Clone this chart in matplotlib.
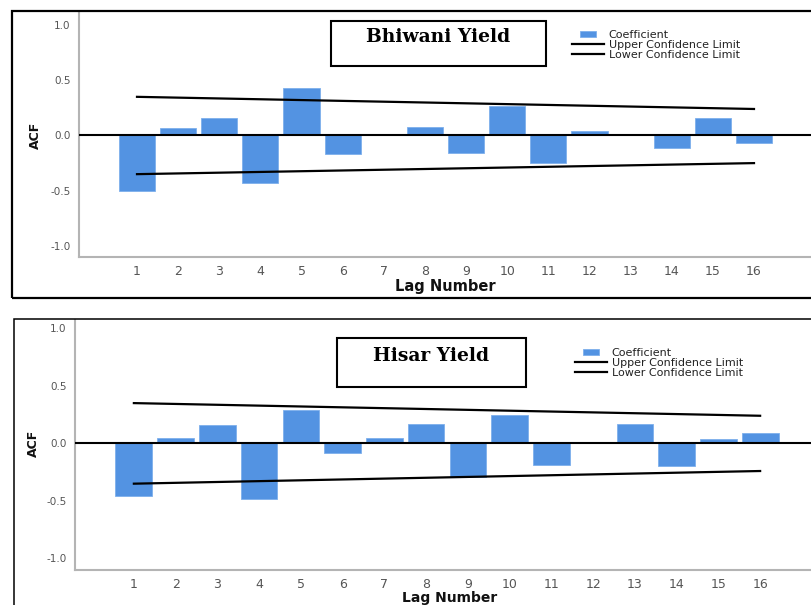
import matplotlib

matplotlib.use("Agg")
import matplotlib.pyplot as plt
import matplotlib.patches as mpatches
from matplotlib.legend_handler import HandlerPatch

W, H = 812, 605

lags = list(range(1, 17))
bhiwani_acf = [-0.50, 0.07, 0.16, -0.43, 0.43, -0.17, 0.00, 0.08,
               -0.16, 0.27, -0.25, 0.04, 0.01, -0.11, 0.16, -0.07]
hisar_acf = [-0.46, 0.05, 0.16, -0.48, 0.29, -0.08, 0.05, 0.17,
             -0.29, 0.25, -0.19, 0.00, 0.17, -0.20, 0.04, 0.09]
# confidence limits read at lag 1 and lag 16
bhiwani_ucl = [0.35, 0.24]
bhiwani_lcl = [-0.35, -0.25]
hisar_ucl = [0.35, 0.24]
hisar_lcl = [-0.35, -0.24]
y_ticks = [-1.0, -0.5, 0.0, 0.5, 1.0]
legend_labels = ["Coefficient", "Upper Confidence Limit", "Lower Confidence Limit"]

BAR_COLOR = "#5393e2"
SPINE_COLOR = "#b4b4b4"
TICK_COLOR = "#555555"


def px(x, y):
    return x / W, 1 - y / H


def narrow_patch(legend, orig_handle, xdescent, ydescent, width, height, fontsize):
    w = width * 0.52
    return mpatches.Rectangle((-xdescent + (width - w) / 2, -ydescent), w, height)


def draw_panel(fig, box, values, ucl, lcl, title, title_box, legend_xy, xlabel_xy, ylabel_xy,
               xlabel_size=10.5):
    left, top, right, bottom, ylim = box
    x0, y1 = px(left, top)
    x1, y0 = px(right, bottom)
    ax = fig.add_axes([x0, y0, x1 - x0, y1 - y0])
    bars = ax.bar(lags, values, width=0.88, color=BAR_COLOR, edgecolor="#7eb0ec",
                  linewidth=0.6, zorder=2)
    ax.axhline(0, color="black", lw=1.5, zorder=3)
    (u,) = ax.plot([lags[0], lags[-1]], ucl, color="black", lw=1.6, zorder=4)
    (l,) = ax.plot([lags[0], lags[-1]], lcl, color="black", lw=1.6, zorder=4)
    ax.set_xlim(-0.41, 17.41)
    ax.set_ylim(*ylim)
    ax.set_xticks(lags)
    ax.set_yticks(y_ticks)
    ax.set_yticklabels([f"{v:.1f}" for v in y_ticks])
    for side in ("top", "right"):
        ax.spines[side].set_visible(False)
    for side in ("left", "bottom"):
        ax.spines[side].set_color(SPINE_COLOR)
        ax.spines[side].set_linewidth(1.5)
    ax.tick_params(axis="x", length=0, pad=6, labelsize=9, labelcolor=TICK_COLOR)
    ax.tick_params(axis="y", length=0, pad=6, labelsize=7.5, labelcolor=TICK_COLOR)

    ax.set_xlabel("Lag Number", fontsize=xlabel_size, fontweight="bold", color="#111111")
    ax.xaxis.set_label_coords(*px(*xlabel_xy), transform=fig.transFigure)
    ax.xaxis.label.set_va("center")
    ax.set_ylabel("ACF", fontsize=9, fontweight="bold", color="#111111")
    ax.yaxis.set_label_coords(*px(*ylabel_xy), transform=fig.transFigure)
    ax.yaxis.label.set_va("center")

    bx0, by0, bx1, by1, base = title_box
    fx0, fy1 = px(bx0, by0)
    fx1, fy0 = px(bx1, by1)
    fig.patches.append(mpatches.Rectangle((fx0, fy0), fx1 - fx0, fy1 - fy0, fill=False,
                                          ec="black", lw=1.5, transform=fig.transFigure))
    tx, ty = px((bx0 + bx1) / 2, base)
    fig.text(tx, ty, title, ha="center", va="baseline", family="DejaVu Serif",
             fontweight="bold", fontsize=13.5)

    leg = ax.legend(handles=[bars.patches[0], u, l], labels=legend_labels, loc="upper left",
                    bbox_to_anchor=px(*legend_xy), bbox_transform=fig.transFigure,
                    frameon=False, fontsize=8, labelspacing=0.0, handlelength=2.9,
                    handleheight=0.5, handletextpad=0.4, borderpad=0, borderaxespad=0,
                    handler_map={mpatches.Rectangle: HandlerPatch(patch_func=narrow_patch)})
    for t in leg.get_texts():
        t.set_color("#222222")
    return ax


fig = plt.figure(figsize=(W / 100, H / 100), dpi=100)

# panel borders
for (bx, by, bw, bh, lw) in [(12, 11, 805, 287, 1.6), (14, 319, 805, 300, 1.1)]:
    fx, fy = px(bx, by + bh)
    fig.patches.append(mpatches.Rectangle((fx, fy), bw / W, bh / H, fill=False,
                                          ec="black", lw=lw, transform=fig.transFigure))

draw_panel(fig, (79, 12, 812, 257, (-1.10, 1.118)), bhiwani_acf, bhiwani_ucl, bhiwani_lcl,
           "Bhiwani Yield", (331, 21, 546, 66, 42), (572, 30), (445, 287), (35, 135))
draw_panel(fig, (75, 320, 819, 570, (-1.10, 1.072)), hisar_acf, hisar_ucl, hisar_lcl,
           "Hisar Yield", (337, 338, 526, 387, 361), (575, 348), (450, 598), (33, 443),
           xlabel_size=10)

fig.savefig("out.png", dpi=100)
